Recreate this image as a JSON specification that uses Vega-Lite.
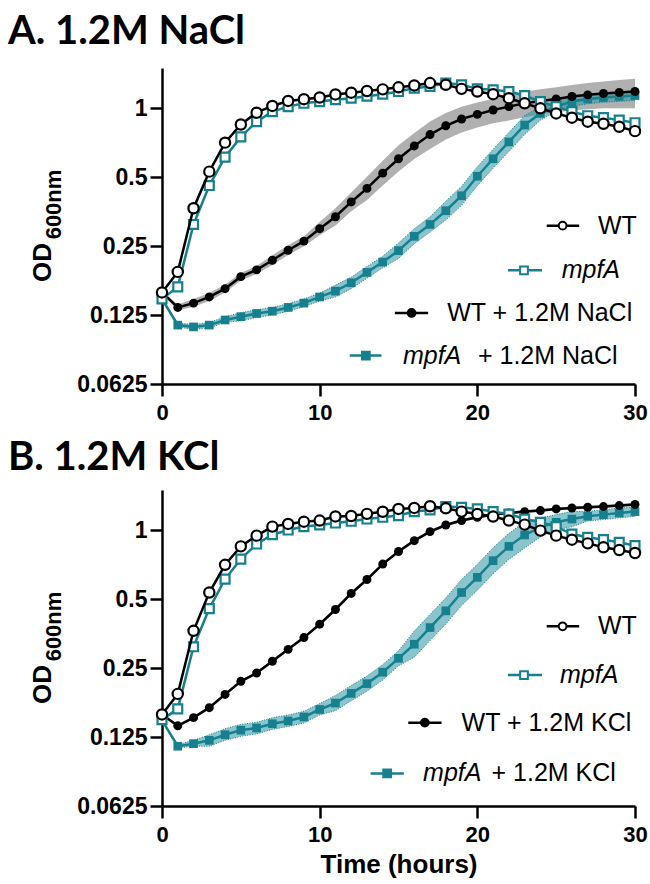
{
"$schema": "https://vega.github.io/schema/vega-lite/v6.json",
"background": "white",
"padding": {"left": 8, "top": 12, "right": 2, "bottom": 2},
"spacing": 15,
"datasets": {
"A": [
{"s":"WT","t":0,"od":0.157},{"s":"WT","t":1,"od":0.193},{"s":"WT","t":2,"od":0.366},{"s":"WT","t":3,"od":0.529},{"s":"WT","t":4,"od":0.708},{"s":"WT","t":5,"od":0.85},{"s":"WT","t":6,"od":0.957},{"s":"WT","t":7,"od":1.024},{"s":"WT","t":8,"od":1.077},{"s":"WT","t":9,"od":1.096},{"s":"WT","t":10,"od":1.115},{"s":"WT","t":11,"od":1.15},{"s":"WT","t":12,"od":1.17},{"s":"WT","t":13,"od":1.19},{"s":"WT","t":14,"od":1.21},{"s":"WT","t":15,"od":1.235},{"s":"WT","t":16,"od":1.259},{"s":"WT","t":17,"od":1.289},{"s":"WT","t":18,"od":1.267},{"s":"WT","t":19,"od":1.216},{"s":"WT","t":20,"od":1.184},{"s":"WT","t":21,"od":1.153},{"s":"WT","t":22,"od":1.107},{"s":"WT","t":23,"od":1.052},{"s":"WT","t":24,"od":1.0},{"s":"WT","t":25,"od":0.95},{"s":"WT","t":26,"od":0.91},{"s":"WT","t":27,"od":0.874},{"s":"WT","t":28,"od":0.856},{"s":"WT","t":29,"od":0.83},{"s":"WT","t":30,"od":0.795},
{"s":"mpfA","t":0,"od":0.147},{"s":"mpfA","t":1,"od":0.166},{"s":"mpfA","t":2,"od":0.311},{"s":"mpfA","t":3,"od":0.46},{"s":"mpfA","t":4,"od":0.612},{"s":"mpfA","t":5,"od":0.75},{"s":"mpfA","t":6,"od":0.874},{"s":"mpfA","t":7,"od":0.967},{"s":"mpfA","t":8,"od":1.017},{"s":"mpfA","t":9,"od":1.052},{"s":"mpfA","t":10,"od":1.07},{"s":"mpfA","t":11,"od":1.09},{"s":"mpfA","t":12,"od":1.107},{"s":"mpfA","t":13,"od":1.13},{"s":"mpfA","t":14,"od":1.153},{"s":"mpfA","t":15,"od":1.184},{"s":"mpfA","t":16,"od":1.225},{"s":"mpfA","t":17,"od":1.246},{"s":"mpfA","t":18,"od":1.289},{"s":"mpfA","t":19,"od":1.267},{"s":"mpfA","t":20,"od":1.216},{"s":"mpfA","t":21,"od":1.204},{"s":"mpfA","t":22,"od":1.184},{"s":"mpfA","t":23,"od":1.137},{"s":"mpfA","t":24,"od":1.07},{"s":"mpfA","t":25,"od":1.017},{"s":"mpfA","t":26,"od":0.967},{"s":"mpfA","t":27,"od":0.928},{"s":"mpfA","t":28,"od":0.91},{"s":"mpfA","t":29,"od":0.888},{"s":"mpfA","t":30,"od":0.865},
{"s":"WTs","t":0,"od":0.157,"lo":0.155,"hi":0.159},{"s":"WTs","t":1,"od":0.135,"lo":0.131,"hi":0.139},{"s":"WTs","t":2,"od":0.141,"lo":0.136,"hi":0.147},{"s":"WTs","t":3,"od":0.15,"lo":0.144,"hi":0.156},{"s":"WTs","t":4,"od":0.163,"lo":0.157,"hi":0.17},{"s":"WTs","t":5,"od":0.184,"lo":0.177,"hi":0.191},{"s":"WTs","t":6,"od":0.197,"lo":0.189,"hi":0.205},{"s":"WTs","t":7,"od":0.217,"lo":0.207,"hi":0.228},{"s":"WTs","t":8,"od":0.24,"lo":0.229,"hi":0.252},{"s":"WTs","t":9,"od":0.263,"lo":0.25,"hi":0.276},{"s":"WTs","t":10,"od":0.298,"lo":0.279,"hi":0.319},{"s":"WTs","t":11,"od":0.336,"lo":0.308,"hi":0.366},{"s":"WTs","t":12,"od":0.39,"lo":0.355,"hi":0.429},{"s":"WTs","t":13,"od":0.447,"lo":0.398,"hi":0.502},{"s":"WTs","t":14,"od":0.521,"lo":0.46,"hi":0.59},{"s":"WTs","t":15,"od":0.602,"lo":0.53,"hi":0.69},{"s":"WTs","t":16,"od":0.685,"lo":0.6,"hi":0.78},{"s":"WTs","t":17,"od":0.768,"lo":0.665,"hi":0.875},{"s":"WTs","t":18,"od":0.839,"lo":0.73,"hi":0.955},{"s":"WTs","t":19,"od":0.898,"lo":0.785,"hi":1.015},{"s":"WTs","t":20,"od":0.941,"lo":0.825,"hi":1.06},{"s":"WTs","t":21,"od":0.983,"lo":0.86,"hi":1.1},{"s":"WTs","t":22,"od":1.017,"lo":0.885,"hi":1.14},{"s":"WTs","t":23,"od":1.052,"lo":0.915,"hi":1.18},{"s":"WTs","t":24,"od":1.077,"lo":0.94,"hi":1.21},{"s":"WTs","t":25,"od":1.099,"lo":0.96,"hi":1.235},{"s":"WTs","t":26,"od":1.126,"lo":0.98,"hi":1.265},{"s":"WTs","t":27,"od":1.145,"lo":0.99,"hi":1.29},{"s":"WTs","t":28,"od":1.161,"lo":1.0,"hi":1.31},{"s":"WTs","t":29,"od":1.172,"lo":1.0,"hi":1.33},{"s":"WTs","t":30,"od":1.184,"lo":1.0,"hi":1.345},
{"s":"mpfAs","t":0,"od":0.147,"lo":0.145,"hi":0.149},{"s":"mpfAs","t":1,"od":0.113,"lo":0.111,"hi":0.115},{"s":"mpfAs","t":2,"od":0.111,"lo":0.108,"hi":0.114},{"s":"mpfAs","t":3,"od":0.113,"lo":0.11,"hi":0.116},{"s":"mpfAs","t":4,"od":0.119,"lo":0.116,"hi":0.123},{"s":"mpfAs","t":5,"od":0.123,"lo":0.118,"hi":0.128},{"s":"mpfAs","t":6,"od":0.127,"lo":0.122,"hi":0.132},{"s":"mpfAs","t":7,"od":0.13,"lo":0.125,"hi":0.135},{"s":"mpfAs","t":8,"od":0.135,"lo":0.13,"hi":0.14},{"s":"mpfAs","t":9,"od":0.141,"lo":0.136,"hi":0.147},{"s":"mpfAs","t":10,"od":0.15,"lo":0.144,"hi":0.156},{"s":"mpfAs","t":11,"od":0.159,"lo":0.15,"hi":0.169},{"s":"mpfAs","t":12,"od":0.173,"lo":0.163,"hi":0.183},{"s":"mpfAs","t":13,"od":0.192,"lo":0.181,"hi":0.204},{"s":"mpfAs","t":14,"od":0.213,"lo":0.201,"hi":0.226},{"s":"mpfAs","t":15,"od":0.239,"lo":0.221,"hi":0.258},{"s":"mpfAs","t":16,"od":0.276,"lo":0.256,"hi":0.298},{"s":"mpfAs","t":17,"od":0.311,"lo":0.288,"hi":0.336},{"s":"mpfAs","t":18,"od":0.357,"lo":0.325,"hi":0.393},{"s":"mpfAs","t":19,"od":0.415,"lo":0.377,"hi":0.457},{"s":"mpfAs","t":20,"od":0.505,"lo":0.459,"hi":0.556},{"s":"mpfAs","t":21,"od":0.602,"lo":0.547,"hi":0.662},{"s":"mpfAs","t":22,"od":0.713,"lo":0.648,"hi":0.784},{"s":"mpfAs","t":23,"od":0.845,"lo":0.768,"hi":0.93},{"s":"mpfAs","t":24,"od":0.95,"lo":0.888,"hi":1.017},{"s":"mpfAs","t":25,"od":1.017,"lo":0.969,"hi":1.068},{"s":"mpfAs","t":26,"od":1.07,"lo":1.019,"hi":1.124},{"s":"mpfAs","t":27,"od":1.099,"lo":1.047,"hi":1.154},{"s":"mpfAs","t":28,"od":1.115,"lo":1.062,"hi":1.171},{"s":"mpfAs","t":29,"od":1.126,"lo":1.072,"hi":1.182},{"s":"mpfAs","t":30,"od":1.137,"lo":1.083,"hi":1.194}
],
"B": [
{"s":"WT","t":0,"od":0.157},{"s":"WT","t":1,"od":0.193},{"s":"WT","t":2,"od":0.364},{"s":"WT","t":3,"od":0.535},{"s":"WT","t":4,"od":0.707},{"s":"WT","t":5,"od":0.851},{"s":"WT","t":6,"od":0.948},{"s":"WT","t":7,"od":1.038},{"s":"WT","t":8,"od":1.066},{"s":"WT","t":9,"od":1.091},{"s":"WT","t":10,"od":1.103},{"s":"WT","t":11,"od":1.15},{"s":"WT","t":12,"od":1.155},{"s":"WT","t":13,"od":1.18},{"s":"WT","t":14,"od":1.205},{"s":"WT","t":15,"od":1.24},{"s":"WT","t":16,"od":1.252},{"s":"WT","t":17,"od":1.274},{"s":"WT","t":18,"od":1.248},{"s":"WT","t":19,"od":1.207},{"s":"WT","t":20,"od":1.178},{"s":"WT","t":21,"od":1.148},{"s":"WT","t":22,"od":1.103},{"s":"WT","t":23,"od":1.059},{"s":"WT","t":24,"od":0.997},{"s":"WT","t":25,"od":0.948},{"s":"WT","t":26,"od":0.91},{"s":"WT","t":27,"od":0.877},{"s":"WT","t":28,"od":0.843},{"s":"WT","t":29,"od":0.82},{"s":"WT","t":30,"od":0.796},
{"s":"mpfA","t":0,"od":0.149},{"s":"mpfA","t":1,"od":0.166},{"s":"mpfA","t":2,"od":0.31},{"s":"mpfA","t":3,"od":0.455},{"s":"mpfA","t":4,"od":0.612},{"s":"mpfA","t":5,"od":0.749},{"s":"mpfA","t":6,"od":0.871},{"s":"mpfA","t":7,"od":0.957},{"s":"mpfA","t":8,"od":1.003},{"s":"mpfA","t":9,"od":1.038},{"s":"mpfA","t":10,"od":1.055},{"s":"mpfA","t":11,"od":1.076},{"s":"mpfA","t":12,"od":1.095},{"s":"mpfA","t":13,"od":1.12},{"s":"mpfA","t":14,"od":1.14},{"s":"mpfA","t":15,"od":1.16},{"s":"mpfA","t":16,"od":1.207},{"s":"mpfA","t":17,"od":1.227},{"s":"mpfA","t":18,"od":1.27},{"s":"mpfA","t":19,"od":1.261},{"s":"mpfA","t":20,"od":1.24},{"s":"mpfA","t":21,"od":1.207},{"s":"mpfA","t":22,"od":1.178},{"s":"mpfA","t":23,"od":1.12},{"s":"mpfA","t":24,"od":1.084},{"s":"mpfA","t":25,"od":1.038},{"s":"mpfA","t":26,"od":0.963},{"s":"mpfA","t":27,"od":0.932},{"s":"mpfA","t":28,"od":0.91},{"s":"mpfA","t":29,"od":0.886},{"s":"mpfA","t":30,"od":0.857},
{"s":"WTs","t":0,"od":0.157,"lo":0.155,"hi":0.159},{"s":"WTs","t":1,"od":0.14,"lo":0.138,"hi":0.142},{"s":"WTs","t":2,"od":0.152,"lo":0.15,"hi":0.154},{"s":"WTs","t":3,"od":0.168,"lo":0.166,"hi":0.171},{"s":"WTs","t":4,"od":0.192,"lo":0.189,"hi":0.195},{"s":"WTs","t":5,"od":0.219,"lo":0.216,"hi":0.222},{"s":"WTs","t":6,"od":0.238,"lo":0.234,"hi":0.242},{"s":"WTs","t":7,"od":0.268,"lo":0.264,"hi":0.272},{"s":"WTs","t":8,"od":0.302,"lo":0.297,"hi":0.307},{"s":"WTs","t":9,"od":0.34,"lo":0.335,"hi":0.345},{"s":"WTs","t":10,"od":0.389,"lo":0.383,"hi":0.395},{"s":"WTs","t":11,"od":0.451,"lo":0.444,"hi":0.458},{"s":"WTs","t":12,"od":0.53,"lo":0.522,"hi":0.538},{"s":"WTs","t":13,"od":0.61,"lo":0.601,"hi":0.619},{"s":"WTs","t":14,"od":0.712,"lo":0.701,"hi":0.723},{"s":"WTs","t":15,"od":0.808,"lo":0.796,"hi":0.82},{"s":"WTs","t":16,"od":0.901,"lo":0.888,"hi":0.915},{"s":"WTs","t":17,"od":0.987,"lo":0.972,"hi":1.002},{"s":"WTs","t":18,"od":1.055,"lo":1.039,"hi":1.071},{"s":"WTs","t":19,"od":1.103,"lo":1.087,"hi":1.12},{"s":"WTs","t":20,"od":1.14,"lo":1.123,"hi":1.157},{"s":"WTs","t":21,"od":1.171,"lo":1.154,"hi":1.189},{"s":"WTs","t":22,"od":1.191,"lo":1.173,"hi":1.209},{"s":"WTs","t":23,"od":1.207,"lo":1.189,"hi":1.225},{"s":"WTs","t":24,"od":1.22,"lo":1.202,"hi":1.238},{"s":"WTs","t":25,"od":1.24,"lo":1.222,"hi":1.259},{"s":"WTs","t":26,"od":1.252,"lo":1.233,"hi":1.271},{"s":"WTs","t":27,"od":1.261,"lo":1.242,"hi":1.28},{"s":"WTs","t":28,"od":1.27,"lo":1.251,"hi":1.289},{"s":"WTs","t":29,"od":1.283,"lo":1.264,"hi":1.302},{"s":"WTs","t":30,"od":1.296,"lo":1.277,"hi":1.315},
{"s":"mpfAs","t":0,"od":0.148,"lo":0.147,"hi":0.149},{"s":"mpfAs","t":1,"od":0.114,"lo":0.112,"hi":0.116},{"s":"mpfAs","t":2,"od":0.117,"lo":0.114,"hi":0.121},{"s":"mpfAs","t":3,"od":0.121,"lo":0.114,"hi":0.128},{"s":"mpfAs","t":4,"od":0.128,"lo":0.121,"hi":0.136},{"s":"mpfAs","t":5,"od":0.134,"lo":0.126,"hi":0.142},{"s":"mpfAs","t":6,"od":0.137,"lo":0.129,"hi":0.145},{"s":"mpfAs","t":7,"od":0.143,"lo":0.135,"hi":0.152},{"s":"mpfAs","t":8,"od":0.147,"lo":0.139,"hi":0.156},{"s":"mpfAs","t":9,"od":0.153,"lo":0.144,"hi":0.162},{"s":"mpfAs","t":10,"od":0.165,"lo":0.156,"hi":0.175},{"s":"mpfAs","t":11,"od":0.176,"lo":0.163,"hi":0.19},{"s":"mpfAs","t":12,"od":0.194,"lo":0.18,"hi":0.21},{"s":"mpfAs","t":13,"od":0.214,"lo":0.198,"hi":0.231},{"s":"mpfAs","t":14,"od":0.24,"lo":0.222,"hi":0.259},{"s":"mpfAs","t":15,"od":0.276,"lo":0.256,"hi":0.298},{"s":"mpfAs","t":16,"od":0.318,"lo":0.279,"hi":0.363},{"s":"mpfAs","t":17,"od":0.376,"lo":0.33,"hi":0.429},{"s":"mpfAs","t":18,"od":0.445,"lo":0.39,"hi":0.507},{"s":"mpfAs","t":19,"od":0.535,"lo":0.469,"hi":0.61},{"s":"mpfAs","t":20,"od":0.623,"lo":0.547,"hi":0.71},{"s":"mpfAs","t":21,"od":0.737,"lo":0.646,"hi":0.84},{"s":"mpfAs","t":22,"od":0.851,"lo":0.746,"hi":0.97},{"s":"mpfAs","t":23,"od":0.954,"lo":0.837,"hi":1.088},{"s":"mpfAs","t":24,"od":1.03,"lo":0.936,"hi":1.133},{"s":"mpfAs","t":25,"od":1.084,"lo":1.004,"hi":1.171},{"s":"mpfAs","t":26,"od":1.12,"lo":1.037,"hi":1.21},{"s":"mpfAs","t":27,"od":1.152,"lo":1.097,"hi":1.21},{"s":"mpfAs","t":28,"od":1.171,"lo":1.115,"hi":1.23},{"s":"mpfAs","t":29,"od":1.191,"lo":1.134,"hi":1.251},{"s":"mpfAs","t":30,"od":1.207,"lo":1.15,"hi":1.267}
],
"legA": [
{"s":"WT","t":24.40,"t2":26.46,"m":25.41,"od":0.3073,"tx":"WT","tn":27.65},
{"s":"mpfA","t":21.94,"t2":24.10,"m":22.96,"od":0.1962,"it":"mpfA","ti":25.35},
{"s":"WTs","t":14.77,"t2":16.88,"m":15.83,"od":0.1277,"tx":"WT + 1.2M NaCl","tn":18.09},
{"s":"mpfAs","t":11.91,"t2":13.92,"m":12.93,"od":0.0832,"it":"mpfA","ti":15.28,"tx":"+ 1.2M NaCl","tn":20.04}
],
"legB": [
{"s":"WT","t":24.40,"t2":26.46,"m":25.41,"od":0.381,"tx":"WT","tn":27.65},
{"s":"mpfA","t":21.94,"t2":24.10,"m":22.96,"od":0.2333,"it":"mpfA","ti":25.24},
{"s":"WTs","t":15.62,"t2":17.73,"m":16.67,"od":0.1445,"tx":"WT + 1.2M KCl","tn":19.0},
{"s":"mpfAs","t":13.23,"t2":15.34,"m":14.28,"od":0.0867,"it":"mpfA","ti":16.56,"tx":"+ 1.2M KCl","tn":20.9}
]
},
"vconcat": [
{
"width": 473, "height": 316,
"title": {"text": "A. 1.2M NaCl", "anchor": "start", "frame": "group", "dx": -154, "font": "Lato", "fontWeight": "bold", "fontSize": 40, "color": "black", "baseline": "alphabetic", "offset": -16},
"resolve": {"axis": {"y": "independent"}},
"encoding": {
"x": {"field": "t", "type": "quantitative", "scale": {"domain": [0, 30], "nice": false, "zero": false}, "axis": {"values": [0, 10, 20, 30], "title": null, "labelFlush": false}},
"y": {"field": "od", "type": "quantitative", "scale": {"type": "log", "base": 2, "domain": [0.0625, 1.5], "nice": false}, "axis": null}
},
"layer": [
{"data": {"name": "A"}, "transform": [{"filter": "datum.s == 'WTs'"}], "mark": {"type": "area", "fill": "#808080", "fillOpacity": 0.62}, "encoding": {"y": {"field": "lo", "type": "quantitative", "scale": {"type": "log", "base": 2, "domain": [0.0625, 1.5], "nice": false}, "axis": {"orient": "left", "values": [0.0625, 0.125, 0.25, 0.5, 1], "format": "~g", "labelOverlap": false, "title": "OD", "titleX": -112, "titleY": 194, "titleAngle": 270, "titleAlign": "center", "titleBaseline": "alphabetic", "titleFontSize": 26}}, "y2": {"field": "hi"}}},
{"data": {"name": "A"}, "transform": [{"filter": "datum.s == 'mpfAs'"}], "mark": {"type": "area", "fill": "#2a96a6", "fillOpacity": 0.55, "stroke": "#16808f", "strokeWidth": 1, "strokeDash": [1, 1.5]}, "encoding": {"y": {"field": "lo", "type": "quantitative", "scale": {"type": "log", "base": 2, "domain": [0.0625, 1.5], "nice": false}, "axis": null}, "y2": {"field": "hi"}}},
{"data": {"name": "A"}, "transform": [{"filter": "datum.s == 'mpfAs'"}], "mark": {"type": "line", "color": "#16808f", "strokeWidth": 2.5}},
{"data": {"name": "A"}, "transform": [{"filter": "datum.s == 'mpfAs'"}], "mark": {"type": "point", "shape": "square", "filled": true, "color": "#16808f", "size": 75, "opacity": 1}},
{"data": {"name": "A"}, "transform": [{"filter": "datum.s == 'WTs'"}], "mark": {"type": "line", "color": "black", "strokeWidth": 2.5}},
{"data": {"name": "A"}, "transform": [{"filter": "datum.s == 'WTs'"}], "mark": {"type": "point", "shape": "circle", "filled": true, "color": "black", "size": 80, "opacity": 1}},
{"data": {"name": "A"}, "transform": [{"filter": "datum.s == 'mpfA'"}], "mark": {"type": "line", "color": "#16808f", "strokeWidth": 2.5}},
{"data": {"name": "A"}, "transform": [{"filter": "datum.s == 'mpfA'"}], "mark": {"type": "point", "shape": "square", "filled": true, "fill": "white", "stroke": "#16808f", "strokeWidth": 2.2, "size": 80, "opacity": 1}},
{"data": {"name": "A"}, "transform": [{"filter": "datum.s == 'WT'"}], "mark": {"type": "line", "color": "black", "strokeWidth": 2.5}, "encoding": {"y": {"field": "od", "type": "quantitative", "scale": {"type": "log", "base": 2, "domain": [0.0625, 1.5], "nice": false}, "axis": {"orient": "left", "title": "600nm", "labels": false, "ticks": false, "domain": false, "titleX": -102, "titleY": 136, "titleAngle": 270, "titleAlign": "center", "titleBaseline": "alphabetic", "titleFontSize": 22}}}},
{"data": {"name": "A"}, "transform": [{"filter": "datum.s == 'WT'"}], "mark": {"type": "point", "shape": "circle", "filled": true, "fill": "white", "stroke": "black", "strokeWidth": 2.2, "size": 105, "opacity": 1}},
{"data": {"name": "legA"}, "mark": {"type": "rule", "strokeWidth": 2.5}, "encoding": {"x2": {"field": "t2"}, "stroke": {"field": "s", "type": "nominal", "scale": {"domain": ["WT", "mpfA", "WTs", "mpfAs"], "range": ["black", "#16808f", "black", "#16808f"]}, "legend": null}}},
{"data": {"name": "legA"}, "mark": {"type": "point", "filled": true, "opacity": 1, "size": 60, "strokeWidth": 2}, "encoding": {
"x": {"field": "m", "type": "quantitative", "scale": {"domain": [0, 30], "nice": false, "zero": false}, "axis": {"values": [0, 10, 20, 30], "title": null, "labelFlush": false}},
"shape": {"field": "s", "type": "nominal", "scale": {"domain": ["WT", "mpfA", "WTs", "mpfAs"], "range": ["circle", "square", "circle", "square"]}, "legend": null},
"fill": {"field": "s", "type": "nominal", "scale": {"domain": ["WT", "mpfA", "WTs", "mpfAs"], "range": ["white", "white", "black", "#16808f"]}, "legend": null},
"stroke": {"field": "s", "type": "nominal", "scale": {"domain": ["WT", "mpfA", "WTs", "mpfAs"], "range": ["black", "#16808f", "black", "#16808f"]}, "legend": null}}},
{"data": {"name": "legA"}, "transform": [{"filter": "isValid(datum.it)"}], "mark": {"type": "text", "align": "left", "baseline": "middle", "font": "Liberation Sans", "fontSize": 25, "fontStyle": "italic", "color": "black"}, "encoding": {
"x": {"field": "ti", "type": "quantitative", "scale": {"domain": [0, 30], "nice": false, "zero": false}, "axis": {"values": [0, 10, 20, 30], "title": null, "labelFlush": false}},
"text": {"field": "it"}}},
{"data": {"name": "legA"}, "transform": [{"filter": "isValid(datum.tx)"}], "mark": {"type": "text", "align": "left", "baseline": "middle", "font": "Liberation Sans", "fontSize": 25, "color": "black"}, "encoding": {
"x": {"field": "tn", "type": "quantitative", "scale": {"domain": [0, 30], "nice": false, "zero": false}, "axis": {"values": [0, 10, 20, 30], "title": null, "labelFlush": false}},
"text": {"field": "tx"}}}
]
},
{
"width": 473, "height": 316,
"title": {"text": "B. 1.2M KCl", "anchor": "start", "frame": "group", "dx": -154, "font": "Lato", "fontWeight": "bold", "fontSize": 40, "color": "black", "baseline": "alphabetic", "offset": -20},
"resolve": {"axis": {"y": "independent"}},
"encoding": {
"x": {"field": "t", "type": "quantitative", "scale": {"domain": [0, 30], "nice": false, "zero": false}, "axis": {"values": [0, 10, 20, 30], "title": "Time (hours)", "labelFlush": false}},
"y": {"field": "od", "type": "quantitative", "scale": {"type": "log", "base": 2, "domain": [0.0625, 1.5], "nice": false}, "axis": null}
},
"layer": [
{"data": {"name": "B"}, "transform": [{"filter": "datum.s == 'WTs'"}], "mark": {"type": "area", "fill": "#808080", "fillOpacity": 0.62}, "encoding": {"y": {"field": "lo", "type": "quantitative", "scale": {"type": "log", "base": 2, "domain": [0.0625, 1.5], "nice": false}, "axis": {"orient": "left", "values": [0.0625, 0.125, 0.25, 0.5, 1], "format": "~g", "labelOverlap": false, "title": "OD", "titleX": -112, "titleY": 194, "titleAngle": 270, "titleAlign": "center", "titleBaseline": "alphabetic", "titleFontSize": 26}}, "y2": {"field": "hi"}}},
{"data": {"name": "B"}, "transform": [{"filter": "datum.s == 'mpfAs'"}], "mark": {"type": "area", "fill": "#2a96a6", "fillOpacity": 0.55, "stroke": "#16808f", "strokeWidth": 1, "strokeDash": [1, 1.5]}, "encoding": {"y": {"field": "lo", "type": "quantitative", "scale": {"type": "log", "base": 2, "domain": [0.0625, 1.5], "nice": false}, "axis": null}, "y2": {"field": "hi"}}},
{"data": {"name": "B"}, "transform": [{"filter": "datum.s == 'mpfAs'"}], "mark": {"type": "line", "color": "#16808f", "strokeWidth": 2.5}},
{"data": {"name": "B"}, "transform": [{"filter": "datum.s == 'mpfAs'"}], "mark": {"type": "point", "shape": "square", "filled": true, "color": "#16808f", "size": 75, "opacity": 1}},
{"data": {"name": "B"}, "transform": [{"filter": "datum.s == 'WTs'"}], "mark": {"type": "line", "color": "black", "strokeWidth": 2.5}},
{"data": {"name": "B"}, "transform": [{"filter": "datum.s == 'WTs'"}], "mark": {"type": "point", "shape": "circle", "filled": true, "color": "black", "size": 80, "opacity": 1}},
{"data": {"name": "B"}, "transform": [{"filter": "datum.s == 'mpfA'"}], "mark": {"type": "line", "color": "#16808f", "strokeWidth": 2.5}},
{"data": {"name": "B"}, "transform": [{"filter": "datum.s == 'mpfA'"}], "mark": {"type": "point", "shape": "square", "filled": true, "fill": "white", "stroke": "#16808f", "strokeWidth": 2.2, "size": 80, "opacity": 1}},
{"data": {"name": "B"}, "transform": [{"filter": "datum.s == 'WT'"}], "mark": {"type": "line", "color": "black", "strokeWidth": 2.5}, "encoding": {"y": {"field": "od", "type": "quantitative", "scale": {"type": "log", "base": 2, "domain": [0.0625, 1.5], "nice": false}, "axis": {"orient": "left", "title": "600nm", "labels": false, "ticks": false, "domain": false, "titleX": -102, "titleY": 136, "titleAngle": 270, "titleAlign": "center", "titleBaseline": "alphabetic", "titleFontSize": 22}}}},
{"data": {"name": "B"}, "transform": [{"filter": "datum.s == 'WT'"}], "mark": {"type": "point", "shape": "circle", "filled": true, "fill": "white", "stroke": "black", "strokeWidth": 2.2, "size": 105, "opacity": 1}},
{"data": {"name": "legB"}, "mark": {"type": "rule", "strokeWidth": 2.5}, "encoding": {"x2": {"field": "t2"}, "stroke": {"field": "s", "type": "nominal", "scale": {"domain": ["WT", "mpfA", "WTs", "mpfAs"], "range": ["black", "#16808f", "black", "#16808f"]}, "legend": null}}},
{"data": {"name": "legB"}, "mark": {"type": "point", "filled": true, "opacity": 1, "size": 60, "strokeWidth": 2}, "encoding": {
"x": {"field": "m", "type": "quantitative", "scale": {"domain": [0, 30], "nice": false, "zero": false}, "axis": {"values": [0, 10, 20, 30], "title": "Time (hours)", "labelFlush": false}},
"shape": {"field": "s", "type": "nominal", "scale": {"domain": ["WT", "mpfA", "WTs", "mpfAs"], "range": ["circle", "square", "circle", "square"]}, "legend": null},
"fill": {"field": "s", "type": "nominal", "scale": {"domain": ["WT", "mpfA", "WTs", "mpfAs"], "range": ["white", "white", "black", "#16808f"]}, "legend": null},
"stroke": {"field": "s", "type": "nominal", "scale": {"domain": ["WT", "mpfA", "WTs", "mpfAs"], "range": ["black", "#16808f", "black", "#16808f"]}, "legend": null}}},
{"data": {"name": "legB"}, "transform": [{"filter": "isValid(datum.it)"}], "mark": {"type": "text", "align": "left", "baseline": "middle", "font": "Liberation Sans", "fontSize": 25, "fontStyle": "italic", "color": "black"}, "encoding": {
"x": {"field": "ti", "type": "quantitative", "scale": {"domain": [0, 30], "nice": false, "zero": false}, "axis": {"values": [0, 10, 20, 30], "title": "Time (hours)", "labelFlush": false}},
"text": {"field": "it"}}},
{"data": {"name": "legB"}, "transform": [{"filter": "isValid(datum.tx)"}], "mark": {"type": "text", "align": "left", "baseline": "middle", "font": "Liberation Sans", "fontSize": 25, "color": "black"}, "encoding": {
"x": {"field": "tn", "type": "quantitative", "scale": {"domain": [0, 30], "nice": false, "zero": false}, "axis": {"values": [0, 10, 20, 30], "title": "Time (hours)", "labelFlush": false}},
"text": {"field": "tx"}}}
]
}
],
"config": {
"view": {"stroke": null},
"font": "Liberation Sans",
"axis": {"grid": false, "domainColor": "black", "domainWidth": 2.5, "tickColor": "black", "tickWidth": 2.5, "tickSize": 12, "labelFont": "Liberation Sans", "labelFontWeight": "bold", "labelFontSize": 22, "labelColor": "black", "titleFont": "Liberation Sans", "titleFontWeight": "bold", "titleColor": "black"},
"axisX": {"labelPadding": 6, "titleFontSize": 26, "titlePadding": 6},
"axisY": {"labelPadding": 3, "labelFontSize": 23}
}
}
